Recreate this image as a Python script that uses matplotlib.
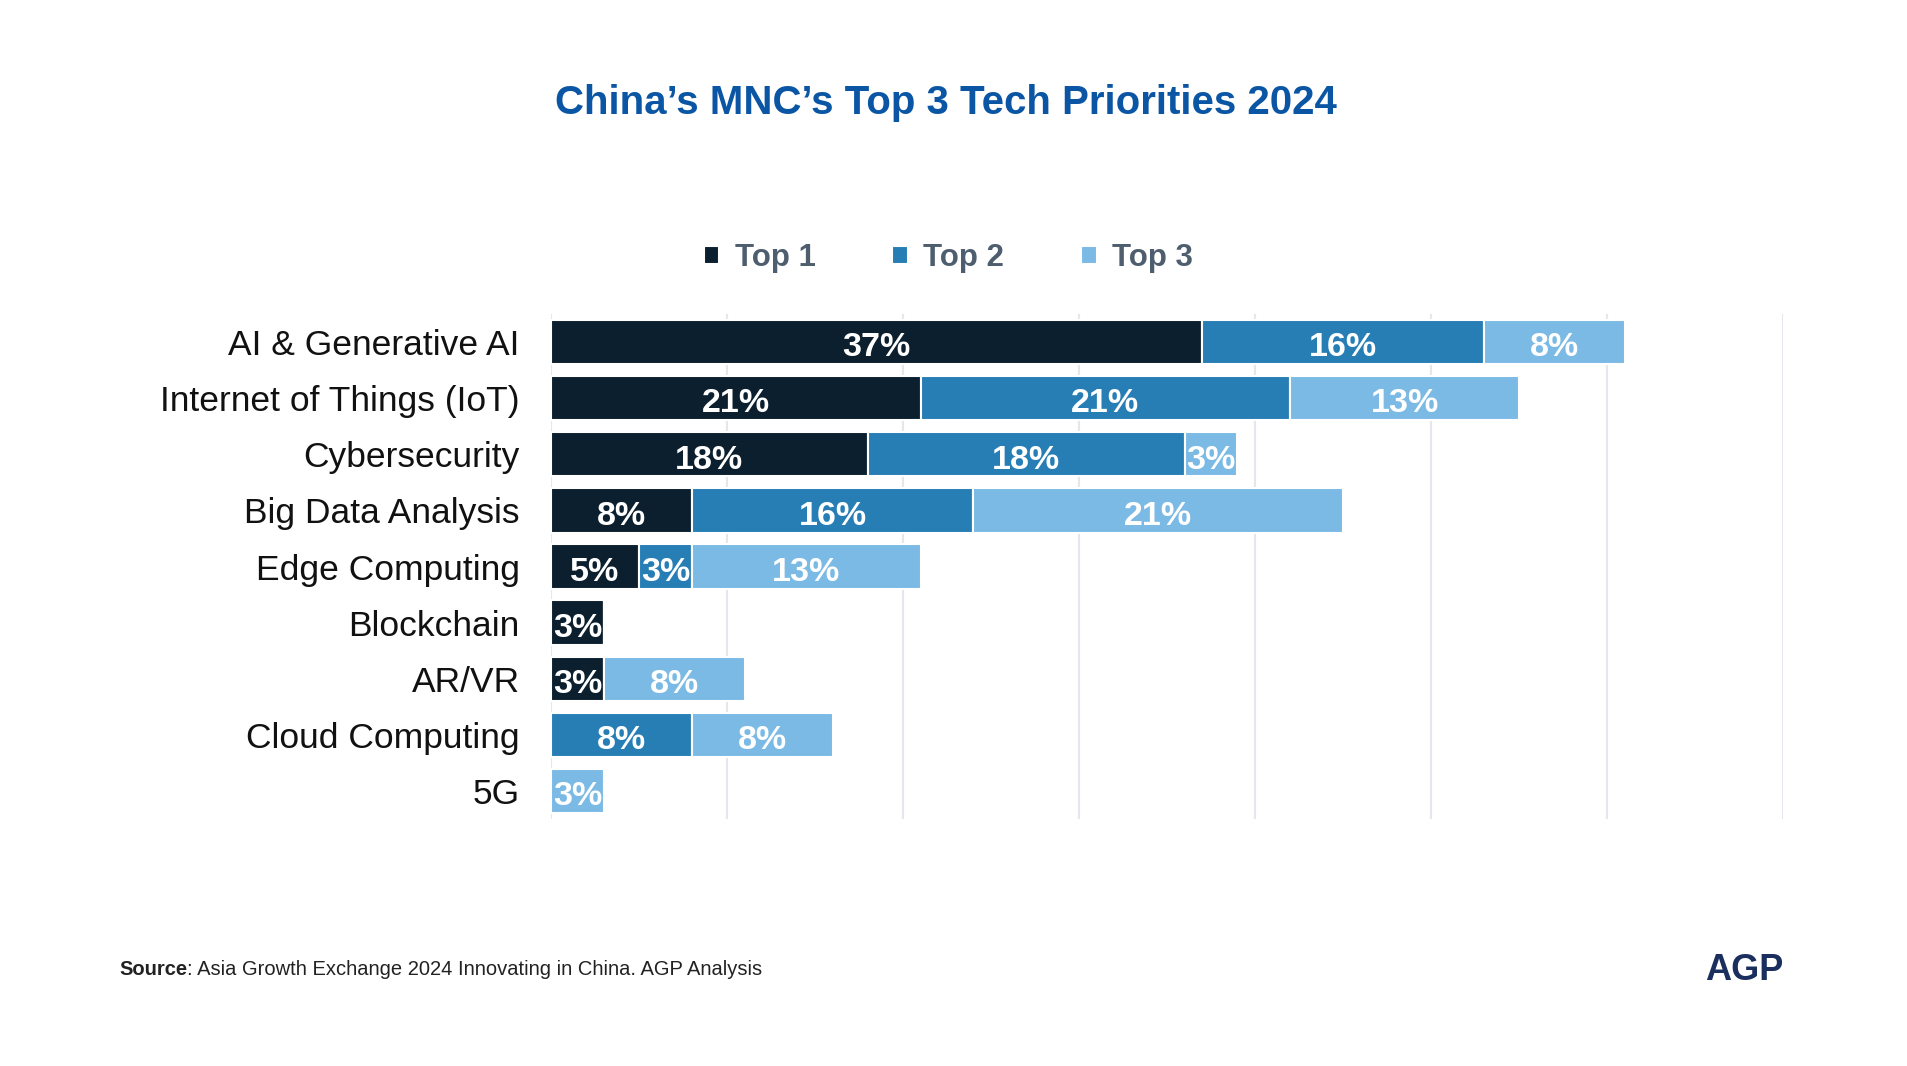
import matplotlib
matplotlib.use('Agg')
import matplotlib.pyplot as plt
import numpy as np

plt.rcParams['font.family'] = ['Liberation Sans', 'DejaVu Sans']

categories = ['AI & Generative AI', 'Internet of Things (IoT)', 'Cybersecurity',
              'Big Data Analysis', 'Edge Computing', 'Blockchain', 'AR/VR',
              'Cloud Computing', '5G']
top1 = [37, 21, 18, 8, 5, 3, 3, 0, 0]
top2 = [16, 21, 18, 16, 3, 0, 0, 8, 0]
top3 = [8, 13, 3, 21, 13, 0, 8, 8, 3]
series_names = ['Top 1', 'Top 2', 'Top 3']
colors = ['#0b1f2e', '#277eb5', '#7bbae4']

fig = plt.figure(figsize=(19.08, 10.66), dpi=100)
ax = fig.add_axes([0.2888, 0.2317, 0.6457, 0.4737])

y = np.arange(len(categories))
left = np.zeros(len(categories))
handles = []
for vals, name, col in zip([top1, top2, top3], series_names, colors):
    vals = np.array(vals, dtype=float)
    bars = ax.barh(y, vals, left=left, height=0.79, color=col,
                   edgecolor='white', linewidth=1.5, label=name, zorder=3)
    handles.append(bars)
    for yi, v, l in zip(y, vals, left):
        if v > 0:
            ax.text(l + v / 2, yi + 0.04, f'{int(v)}%', ha='center', va='center_baseline',
                    color='white', fontsize=24.5, fontweight='bold', zorder=4)
    left += vals

ax.set_xlim(0, 70)
ax.set_ylim(len(categories) - 0.5, -0.5)
ax.set_xticks(np.arange(0, 71, 10))
ax.xaxis.grid(True, color='#e4e7eb', linewidth=1.5, zorder=0)
ax.set_xticklabels([])
ax.tick_params(axis='x', length=0)
ax.set_yticks(y)
ax.set_yticklabels(categories, fontsize=25.5, color='#111111')
ax.tick_params(axis='y', length=0, pad=22.5)
for s in ax.spines.values():
    s.set_visible(False)

fig.text(0.496, 0.903, 'China\u2019s MNC\u2019s Top 3 Tech Priorities 2024',
         ha='center', va='center', fontsize=29, fontweight='bold', color='#0b56a4')

leg = fig.legend(handles=handles, labels=series_names, loc='center',
                 bbox_to_anchor=(0.497, 0.758), ncol=3, frameon=False,
                 fontsize=22.5, handlelength=0.5, handleheight=0.5,
                 handletextpad=0.5, columnspacing=2.45)
for t in leg.get_texts():
    t.set_color('#4f5e6e')
    t.set_fontweight('bold')

src = fig.text(0.0624, 0.0905, 'Source', ha='left', va='center', fontsize=14.5,
               fontweight='bold', color='#222222')
fig.canvas.draw()
bb = src.get_window_extent()
x1 = bb.x1 / fig.bbox.width
fig.text(x1, 0.0905, ': Asia Growth Exchange 2024 Innovating in China. AGP Analysis',
         ha='left', va='center', fontsize=14.5, color='#222222')

fig.text(0.9345, 0.0895, 'AGP', ha='right', va='center', fontsize=26,
         fontweight='bold', color='#1b2f5e')

fig.savefig('out.png', dpi=100, facecolor='white')
